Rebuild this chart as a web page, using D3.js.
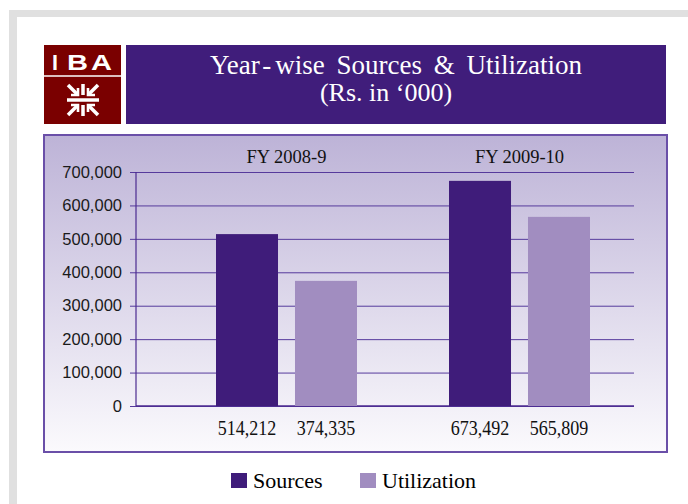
<!DOCTYPE html>
<html>
<head>
<meta charset="utf-8">
<script src="https://cdn.jsdelivr.net/npm/d3@7/dist/d3.min.js"></script>
<style>
  html, body { margin: 0; padding: 0; background: #ffffff; }
  svg { display: block; }
</style>
</head>
<body>
<script>
// Year-wise sources and utilization of funds (Rs. in '000)
const years = ["FY 2008-9", "FY 2009-10"];
const seriesNames = ["Sources", "Utilization"];
const sources = [514212, 673492];
const utilization = [374335, 565809];
const yTicks = [0, 100000, 200000, 300000, 400000, 500000, 600000, 700000];
const titleParts = ["Year", "-", "wise Sources & Utilization"];
const subtitle = "(Rs. in \u2018000)";

const colors = { Sources: "#3f1c7a", Utilization: "#a18dc0" };
const W = 688, H = 504;
const serif = "'Liberation Serif', 'Times New Roman', serif";

const svg = d3.select("body").append("svg")
  .attr("width", W).attr("height", H);

const defs = svg.append("defs");
const grad = defs.append("linearGradient")
  .attr("id", "panelFill").attr("x1", 0).attr("y1", 0).attr("x2", 0).attr("y2", 1);
grad.append("stop").attr("offset", "0%").attr("stop-color", "#bdb3d7");
grad.append("stop").attr("offset", "100%").attr("stop-color", "#fbfafd");

// page frame
svg.append("rect").attr("x", 9).attr("y", 10).attr("width", 720).attr("height", 520).attr("fill", "#e0e0e0");
svg.append("rect").attr("x", 17).attr("y", 17).attr("width", 720).attr("height", 520).attr("fill", "#ffffff");

// logo block
const logo = svg.append("g");
logo.append("rect").attr("x", 44).attr("y", 45).attr("width", 77).attr("height", 79).attr("fill", "#7a0000");
logo.append("line").attr("x1", 44).attr("x2", 121).attr("y1", 76).attr("y2", 76)
  .attr("stroke", "#ffffff").attr("stroke-width", 1.5);
const iba = logo.append("text")
  .attr("y", 70)
  .attr("font-family", "'Liberation Sans', Arial, sans-serif")
  .attr("font-weight", "bold").attr("font-size", 22).attr("fill", "#ffffff");
[["I", 52], ["B", 67], ["A", 91]].forEach(([ch, x]) => {
  iba.append("tspan").attr("x", x).attr("textLength", ch === "I" ? 6 : 21)
    .attr("lengthAdjust", "spacingAndGlyphs").text(ch);
});
// emblem
const em = logo.append("g").attr("transform", "translate(83,100)")
  .attr("stroke", "#ffffff").attr("stroke-width", 3.5).attr("fill", "none").attr("stroke-linecap", "butt");
em.append("line").attr("x1", -16).attr("x2", 16).attr("y1", 0).attr("y2", 0);
[-1, 1].forEach(s => {
  em.append("line").attr("x1", 0).attr("x2", 0).attr("y1", s * 5).attr("y2", s * 16);
  [-1, 1].forEach(t => {
    em.append("line").attr("x1", t * 6).attr("y1", s * 6).attr("x2", t * 15).attr("y2", s * 15);
    em.append("path").attr("stroke-width", 2.6)
      .attr("d", `M${t * 5},${s * 12} L${t * 5},${s * 5} L${t * 12},${s * 5}`);
  });
});

// title banner
svg.append("rect").attr("x", 126).attr("y", 45).attr("width", 540).attr("height", 79).attr("fill", "#401d7b");
const t1 = svg.append("text").attr("x", 396).attr("y", 74).attr("text-anchor", "middle")
  .attr("font-family", serif)
  .attr("font-size", 27).attr("word-spacing", "5px").attr("fill", "#ffffff");
t1.append("tspan").text(titleParts[0]);
t1.append("tspan").attr("dx", 3).text(titleParts[1]);
t1.append("tspan").attr("dx", 4).text(titleParts[2]);
svg.append("text").attr("x", 386).attr("y", 101).attr("text-anchor", "middle")
  .attr("font-family", serif)
  .attr("font-size", 26).attr("fill", "#ffffff")
  .text(subtitle);

// chart panel
svg.append("rect").attr("x", 44).attr("y", 135).attr("width", 623).attr("height", 317)
  .attr("fill", "url(#panelFill)").attr("stroke", "#6a4fa8").attr("stroke-width", 2);

const plot = { left: 136, right: 634, top: 172, bottom: 406 };

const y = d3.scaleLinear().domain([0, 700000]).range([plot.bottom, plot.top]);
const x0 = d3.scaleBand().domain(years).range([170, 636]);
const x1 = d3.scaleBand().domain(seriesNames).range([46, 187]).paddingInner(0.215).paddingOuter(0);

// y axis with gridlines
const yAxis = d3.axisLeft(y).tickValues(yTicks).tickFormat(d3.format(","))
  .tickSize(-(plot.right - plot.left)).tickSizeOuter(0).tickPadding(14);
const gy = svg.append("g").attr("transform", `translate(${plot.left},0)`).call(yAxis);
gy.select(".domain").remove();
gy.selectAll(".tick line").attr("stroke", "#563a9c").attr("stroke-width", 1).attr("x1", -6);
gy.selectAll(".tick text")
  .attr("font-family", "'Liberation Sans', Arial, sans-serif")
  .attr("font-size", 16.5).attr("fill", "#1a1a1a");

// axis frame lines
svg.append("line").attr("x1", plot.left).attr("x2", plot.left).attr("y1", plot.top).attr("y2", plot.bottom)
  .attr("stroke", "#4b2a90").attr("stroke-width", 1.2);
svg.append("line").attr("x1", plot.left).attr("x2", plot.right).attr("y1", plot.bottom).attr("y2", plot.bottom)
  .attr("stroke", "#4b2a90").attr("stroke-width", 1.5);

// bars
const rows = years.map((yr, i) => ({
  year: yr,
  values: [
    { name: "Sources", value: sources[i] },
    { name: "Utilization", value: utilization[i] }
  ]
}));

const groups = svg.append("g").selectAll("g").data(rows).join("g")
  .attr("transform", d => `translate(${x0(d.year)},0)`);

groups.selectAll("rect").data(d => d.values).join("rect")
  .attr("x", d => x1(d.name))
  .attr("width", x1.bandwidth())
  .attr("y", d => y(d.value))
  .attr("height", d => y(0) - y(d.value))
  .attr("fill", d => colors[d.name]);

// value labels under the bars
groups.selectAll("text.val").data(d => d.values).join("text")
  .attr("class", "val")
  .attr("transform", d => `translate(${x1(d.name) + x1.bandwidth() / 2},435) scale(0.84,1)`)
  .attr("text-anchor", "middle")
  .attr("font-family", serif)
  .attr("font-size", 21.5).attr("fill", "#111111")
  .text(d => d3.format(",")(d.value));

// year labels above the bars
groups.append("text")
  .attr("x", x0.bandwidth() / 2)
  .attr("y", 163)
  .attr("text-anchor", "middle")
  .attr("font-family", serif)
  .attr("font-size", 18.5).attr("fill", "#111111")
  .text(d => d.year);

// legend
const legend = svg.append("g").selectAll("g").data(seriesNames).join("g")
  .attr("transform", (d, i) => `translate(${[231, 360][i]},473)`);
legend.append("rect").attr("width", 16).attr("height", 15).attr("fill", d => colors[d]);
legend.append("text").attr("x", 22).attr("y", 15)
  .attr("font-family", serif)
  .attr("font-size", 22).attr("fill", "#000000")
  .text(d => d);
</script>
</body>
</html>
